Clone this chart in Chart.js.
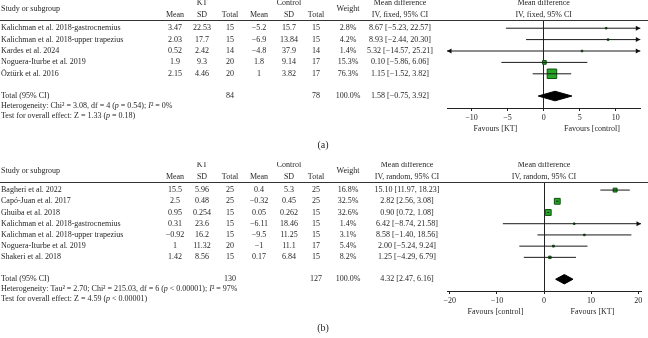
<!DOCTYPE html>
<html>
<head>
<meta charset="utf-8">
<script src="https://cdn.jsdelivr.net/npm/chart.js@4/dist/chart.umd.min.js"></script>
<style>
  html, body { margin: 0; padding: 0; background: #fff; }
  #wrap { position: relative; width: 648px; height: 338px; overflow: hidden; }
  .panel { position: absolute; left: 0; width: 648px; }
</style>
</head>
<body>
<div id="wrap">
  <div class="panel" style="top:0;height:162px"><canvas id="forest_a" width="648" height="162"></canvas></div>
  <div class="panel" style="top:162px;height:176px"><canvas id="forest_b" width="648" height="176"></canvas></div>
</div>
<script>
// ---- panel (a): fixed effect ----
const studiesA = ['Kalichman et al. 2018-gastrocnemius', 'Kalichman et al. 2018-upper trapezius', 'Kardes et al. 2024', 'Noguera-Iturbe et al. 2019', 'Öztürk et al. 2016']
const ktMeanA = [3.47, 2.03, 0.52, 1.9, 2.15]
const ktSdA = [22.53, 17.7, 2.42, 9.3, 4.46]
const ktTotalA = [15, 15, 14, 20, 20]
const ctlMeanA = [-5.2, -6.9, -4.8, 1.8, 1]
const ctlSdA = [15.7, 13.84, 37.9, 9.14, 3.82]
const ctlTotalA = [15, 15, 14, 17, 17]
const weightA = [2.8, 4.2, 1.4, 15.3, 76.3]
const mdA = [8.67, 8.93, 5.32, 0.10, 1.15]
const loA = [-5.23, -2.44, -14.57, -5.86, -1.52]
const hiA = [22.57, 20.30, 25.21, 6.06, 3.82]
const pooledA = [1.58, -0.75, 3.92]
const ticksA = [-10, -5, 0, 5, 10]
const hetA = [['Heterogeneity: Chi\u00b2 = 3.08, df = 4 (', 0], ['p', 1], [' = 0.54); ', 0], ['I', 1], ['\u00b2 = 0%', 0]]
const testA = [['Test for overall effect: Z = 1.33 (', 0], ['p', 1], [' = 0.18)', 0]]

// ---- panel (b): random effects ----
const studiesB = ['Bagheri et al. 2022', 'Capó-Juan et al. 2017', 'Ghuiba et al. 2018', 'Kalichman et al. 2018-gastrocnemius', 'Kalichman et al. 2018-upper trapezius', 'Noguera-Iturbe et al. 2019', 'Shakeri et al. 2018']
const ktMeanB = [15.5, 2.5, 0.95, 0.31, -0.92, 1, 1.42]
const ktSdB = [5.96, 0.48, 0.254, 23.6, 16.2, 11.32, 8.56]
const ktTotalB = [25, 25, 15, 15, 15, 20, 15]
const ctlMeanB = [0.4, -0.32, 0.05, -6.11, -9.5, -1, 0.17]
const ctlSdB = [5.3, 0.45, 0.262, 18.46, 11.25, 11.1, 6.84]
const ctlTotalB = [25, 25, 15, 15, 15, 17, 15]
const weightB = [16.8, 32.5, 32.6, 1.4, 3.1, 5.4, 8.2]
const mdB = [15.10, 2.82, 0.90, 6.42, 8.58, 2.00, 1.25]
const loB = [11.97, 2.56, 0.72, -8.74, -1.40, -5.24, -4.29]
const hiB = [18.23, 3.08, 1.08, 21.58, 18.56, 9.24, 6.79]
const pooledB = [4.32, 2.47, 6.16]
const ticksB = [-20, -10, 0, 10, 20]
const hetB = [['Heterogeneity: Tau\u00b2 = 2.70; Chi\u00b2 = 215.03, df = 6 (', 0], ['p', 1], [' < 0.00001); ', 0], ['I', 1], ['\u00b2 = 97%', 0]]
const testB = [['Test for overall effect: Z = 4.59 (', 0], ['p', 1], [' < 0.00001)', 0]]

const FONT = '8px "Liberation Serif", "DejaVu Serif", serif'
const FONT_I = 'italic 8px "Liberation Serif", "DejaVu Serif", serif'
const INK = '#262626'
const GREEN = '#26a626'
const GREEN_EDGE = '#0f4f0f'
const COLS = [175, 202, 230, 259, 289, 316] // Mean SD Total | Mean SD Total
const COL_W = 348

const fmt = v => String(v).replace('-', '\u2212')
const fmt2 = v => v.toFixed(2).replace('-', '\u2212')
const ciText = (m, l, h) => `${fmt2(m)} [${fmt2(l)}, ${fmt2(h)}]`
const sum = arr => arr.reduce((a, b) => a + b, 0)
// box area proportional to weight
const boxRadius = w => Math.max(1.1, (1.2 * Math.sqrt(w) - 1) / Math.SQRT2)

const tablePlugin = (d, lay) => ({
    id: 'forestTable',
    afterDraw(chart) {
        const { ctx, chartArea: area, scales: { x, y } } = chart
        const n = d.studies.length
        const top = area.top
        const zero = x.getPixelForValue(0)
        ctx.save()
        ctx.fillStyle = INK
        ctx.textBaseline = 'middle'
        ctx.font = FONT
        const put = (s, cx, cy, align = 'center') => {
            ctx.textAlign = align
            ctx.fillText(String(s), cx, cy)
        }
        const rich = (parts, cx, cy) => {
            ctx.textAlign = 'left'
            parts.forEach(([s, it]) => {
                ctx.font = it ? FONT_I : FONT
                ctx.fillText(s, cx, cy)
                cx += ctx.measureText(s).width
            })
            ctx.font = FONT
        }

        // header
        put('KT', COLS[1], top - 17)
        put('Control', COLS[4], top - 17)
        put('Study or subgroup', 1, top - 11, 'left')
        put('Weight', COL_W, top - 11)
        put('Mean difference', lay.mdCol, top - 17)
        put(lay.method, lay.mdCol, top - 5.5)
        put('Mean difference', zero, top - 17)
        put(lay.method, zero, top - 5.5)
        ;['Mean', 'SD', 'Total', 'Mean', 'SD', 'Total'].forEach((h, k) => put(h, COLS[k], top - 5.5))

        ctx.strokeStyle = '#333'
        ctx.lineWidth = 1
        ctx.beginPath()
        ctx.moveTo(0, top + 0.5)
        ctx.lineTo(chart.width, top + 0.5)
        ctx.stroke()

        // study rows
        d.studies.forEach((s, i) => {
            const ry = y.getPixelForValue(i)
            put(s, 1, ry, 'left')
            const cells = [fmt(d.ktMean[i]), fmt(d.ktSd[i]), d.ktTotal[i], fmt(d.ctlMean[i]), fmt(d.ctlSd[i]), d.ctlTotal[i]]
            cells.forEach((c, k) => put(c, COLS[k], ry))
            put(d.weight[i].toFixed(1) + '%', COL_W, ry)
            put(ciText(d.md[i], d.lo[i], d.hi[i]), lay.mdCol, ry)
        })

        // total
        const ty = y.getPixelForValue(lay.totalRow)
        put('Total (95% CI)', 1, ty, 'left')
        put(sum(d.ktTotal), COLS[2], ty)
        put(sum(d.ctlTotal), COLS[5], ty)
        put(sum(d.weight).toFixed(1) + '%', COL_W, ty)
        put(ciText(d.pooled[0], d.pooled[1], d.pooled[2]), lay.mdCol, ty)
        rich(d.het, 1, ty + 9.7)
        rich(d.test, 1, ty + 19.4)

        // favours + panel label
        const q = area.width / 4
        put(lay.favLeft, zero - q, area.bottom + 20.5)
        put(lay.favRight, zero + q, area.bottom + 20.5)
        ctx.font = '10px "Liberation Serif", "DejaVu Serif", serif'
        put(lay.label, 323, area.bottom + 37.5)
        ctx.restore()
    },
    afterDatasetsDraw(chart) {
        // arrow heads where a CI runs past the axis
        const { ctx, scales: { x, y } } = chart
        ctx.save()
        ctx.fillStyle = '#111'
        const arrow = (px, py, dir) => {
            ctx.beginPath()
            ctx.moveTo(px, py)
            ctx.lineTo(px - dir * 4.5, py - 2.5)
            ctx.lineTo(px - dir * 4.5, py + 2.5)
            ctx.closePath()
            ctx.fill()
        }
        d.lo.forEach((lo, i) => {
            const ry = y.getPixelForValue(i)
            if (d.hi[i] > x.max) arrow(x.getPixelForValue(x.max), ry, 1)
            if (lo < x.min) arrow(x.getPixelForValue(x.min), ry, -1)
        })
        ctx.restore()
    }
})

const buildForest = (canvasId, d, lay) => {
    const n = d.studies.length
    const T = lay.totalRow
    const h = 0.42
    const [pm, pl, ph] = d.pooled

    const ciLines = d.lo.map((lo, i) => ({
        type: 'line',
        data: [{ x: lo, y: i }, { x: d.hi[i], y: i }],
        borderColor: '#1a1a1a',
        borderWidth: 1,
        pointRadius: 0
    }))
    const boxes = {
        type: 'scatter',
        data: d.md.map((m, i) => ({ x: m, y: i })),
        pointStyle: 'rect',
        pointRadius: d.weight.map(boxRadius),
        backgroundColor: GREEN,
        borderColor: GREEN_EDGE,
        borderWidth: 1
    }
    // diamond = upper half filled down to lower half
    const diamondTop = {
        type: 'line',
        data: [{ x: pl, y: T }, { x: pm, y: T - h }, { x: ph, y: T }],
        borderColor: '#000', borderWidth: 1, pointRadius: 0,
        backgroundColor: '#000', fill: '+1'
    }
    const diamondBottom = {
        type: 'line',
        data: [{ x: pl, y: T }, { x: pm, y: T + h }, { x: ph, y: T }],
        borderColor: '#000', borderWidth: 1, pointRadius: 0, fill: false
    }

    return new Chart(document.getElementById(canvasId), {
        type: 'scatter',
        data: { datasets: [...ciLines, diamondTop, diamondBottom, boxes] },
        options: {
            responsive: false,
            animation: false,
            layout: { padding: { left: 447, right: 7, top: 20, bottom: 0 } },
            plugins: { legend: { display: false }, tooltip: { enabled: false } },
            scales: {
                x: {
                    type: 'linear',
                    min: -lay.xRange,
                    max: lay.xRange,
                    afterBuildTicks: s => { s.ticks = lay.ticks.map(v => ({ value: v })) },
                    afterFit: s => { s.height = lay.axisHeight },
                    grid: {
                        color: c => (c.tick && c.tick.value === 0 ? '#222' : 'rgba(0,0,0,0)'),
                        tickColor: '#222',
                        tickLength: 3
                    },
                    border: { display: true, color: '#222', width: 1 },
                    ticks: {
                        color: INK,
                        font: { family: '"Liberation Serif", "DejaVu Serif", serif', size: 8 },
                        padding: 2,
                        maxRotation: 0,
                        callback: v => fmt(v)
                    }
                },
                y: {
                    type: 'linear',
                    display: false,
                    reverse: true,
                    min: -0.72,
                    max: n + 2.0
                }
            }
        },
        plugins: [tablePlugin(d, lay)]
    })
}

buildForest('forest_a', {
    studies: studiesA, ktMean: ktMeanA, ktSd: ktSdA, ktTotal: ktTotalA,
    ctlMean: ctlMeanA, ctlSd: ctlSdA, ctlTotal: ctlTotalA, weight: weightA,
    md: mdA, lo: loA, hi: hiA, pooled: pooledA, het: hetA, test: testA
}, {
    method: 'IV, fixed, 95% CI', mdCol: 400, xRange: 13.4, ticks: ticksA, axisHeight: 54,
    totalRow: studiesA.length + 0.95, favLeft: 'Favours [KT]', favRight: 'Favours [control]', label: '(a)'
})

buildForest('forest_b', {
    studies: studiesB, ktMean: ktMeanB, ktSd: ktSdB, ktTotal: ktTotalB,
    ctlMean: ctlMeanB, ctlSd: ctlSdB, ctlTotal: ctlTotalB, weight: weightB,
    md: mdB, lo: loB, hi: hiB, pooled: pooledB, het: hetB, test: testB
}, {
    method: 'IV, random, 95% CI', mdCol: 407, xRange: 20.6, ticks: ticksB, axisHeight: 47,
    totalRow: studiesB.length + 0.95, favLeft: 'Favours [control]', favRight: 'Favours [KT]', label: '(b)'
})
</script>
</body>
</html>
